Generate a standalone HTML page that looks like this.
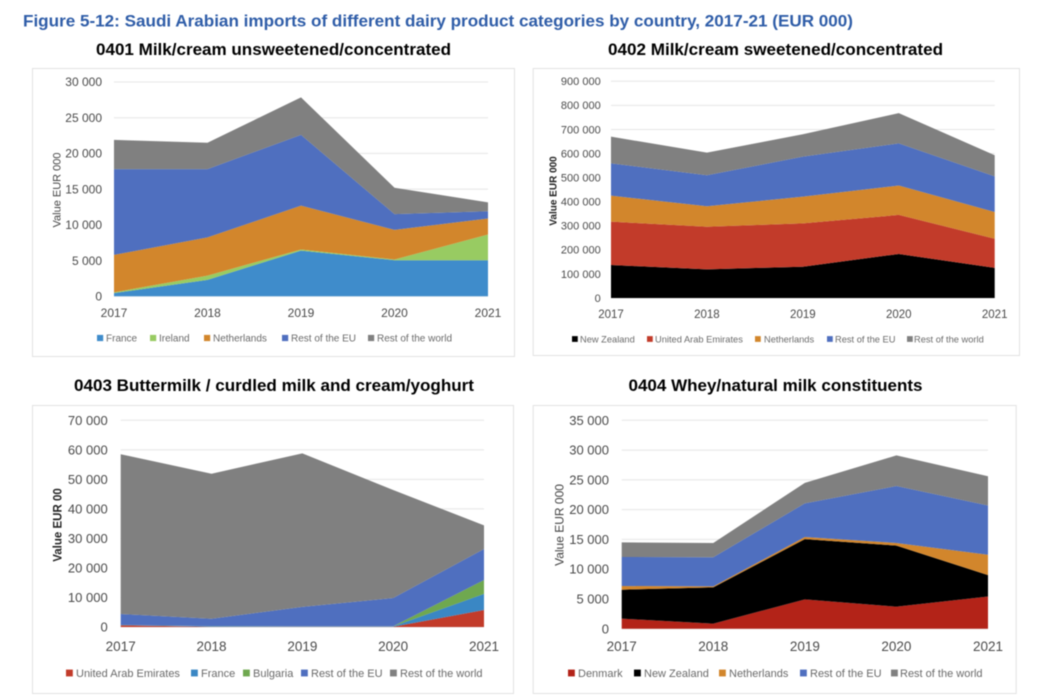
<!DOCTYPE html>
<html lang="en">
<head>
<meta charset="utf-8">
<title>Saudi Arabian imports of dairy product categories</title>
<style>
html,body{margin:0;padding:0;background:#fff;width:1037px;height:699px;overflow:hidden}
svg{display:block;font-family:"Liberation Sans",sans-serif;filter:blur(.5px)}
</style>
</head>
<body>
<svg id="figure" xmlns="http://www.w3.org/2000/svg" width="1037" height="699" viewBox="0 0 1037 699">
<text x="23" y="26.5" font-size="16.2" font-weight="700" fill="#2f5da8" textLength="830" lengthAdjust="spacingAndGlyphs">Figure 5-12: Saudi Arabian imports of different dairy product categories by country, 2017-21 (EUR 000)</text>
</svg>
<script>
const years = ['2017', '2018', '2019', '2020', '2021'];

const ticks0401 = [0, 5000, 10000, 15000, 20000, 25000, 30000];
const france0401 = [450, 2300, 6400, 5050, 5050];
const ireland0401 = [100, 600, 150, 100, 3600];
const netherlands0401 = [5250, 5350, 6150, 4150, 2250];
const restEu0401 = [12000, 9550, 9900, 2200, 1000];
const restWorld0401 = [4100, 3700, 5250, 3700, 1250];

const ticks0402 = [0, 100000, 200000, 300000, 400000, 500000, 600000, 700000, 800000, 900000];
const newZealand0402 = [137000, 119000, 130000, 183000, 125000];
const uae0402 = [180000, 177000, 180000, 162000, 121000];
const netherlands0402 = [108000, 85000, 111000, 122000, 111000];
const restEu0402 = [134000, 129000, 166000, 175000, 148000];
const restWorld0402 = [111000, 94000, 93000, 126000, 88000];

const ticks0403 = [0, 10000, 20000, 30000, 40000, 50000, 60000, 70000];
const uae0403 = [560, 100, 100, 100, 5750];
const france0403 = [40, 200, 100, 100, 5450];
const bulgaria0403 = [50, 50, 50, 50, 4700];
const restEu0403 = [3750, 2450, 6550, 9550, 10500];
const restWorld0403 = [54100, 49100, 52000, 36600, 8000];

const ticks0404 = [0, 5000, 10000, 15000, 20000, 25000, 30000, 35000];
const denmark0404 = [1700, 850, 4930, 3700, 5400];
const newZealand0404 = [4850, 6100, 10120, 10250, 3600];
const netherlands0404 = [620, 150, 350, 450, 3430];
const restEu0404 = [4870, 4900, 5650, 9560, 8270];
const restWorld0404 = [2460, 2400, 3450, 5140, 4900];

const charts = [
  {
    id: '0401', title: '0401 Milk/cream unsweetened/concentrated', yTitle: 'Value EUR 000', ticks: ticks0401,
    titleX: 273.5, titleY: 55, titleW: 355,
    panel: [32, 68, 482, 288], plot: [114, 488, 82, 296.3],
    yRight: 102, tickFont: 12, xFont: 12, xLabelY: 317, yTitleX: 60.5, yTitleY: 190, yTitleFont: 11, yTitleBold: false,
    legendY: 338, legendFont: 10,
    series: [
      { name: 'France', values: france0401, color: '#3f8ccb', sx: 97, tx: 106 },
      { name: 'Ireland', values: ireland0401, color: '#98cb62', sx: 150, tx: 159 },
      { name: 'Netherlands', values: netherlands0401, color: '#d2862c', sx: 204, tx: 213 },
      { name: 'Rest of the EU', values: restEu0401, color: '#4f6fbf', sx: 282, tx: 291 },
      { name: 'Rest of the world', values: restWorld0401, color: '#808080', sx: 368, tx: 377 }
    ]
  },
  {
    id: '0402', title: '0402 Milk/cream sweetened/concentrated', yTitle: 'Value EUR 000', ticks: ticks0402,
    titleX: 775.5, titleY: 55, titleW: 335,
    panel: [532.7, 68, 486.3, 287], plot: [611, 994.7, 81.3, 298],
    yRight: 600.7, tickFont: 11, xFont: 11.5, xLabelY: 318, yTitleX: 556.5, yTitleY: 191, yTitleFont: 10, yTitleBold: true,
    legendY: 339, legendFont: 9.3,
    series: [
      { name: 'New Zealand', values: newZealand0402, color: '#000000', sx: 572, tx: 580 },
      { name: 'United Arab Emirates', values: uae0402, color: '#c23b2a', sx: 647, tx: 655 },
      { name: 'Netherlands', values: netherlands0402, color: '#d2862c', sx: 755, tx: 764 },
      { name: 'Rest of the EU', values: restEu0402, color: '#4f6fbf', sx: 827, tx: 835 },
      { name: 'Rest of the world', values: restWorld0402, color: '#808080', sx: 907, tx: 914 }
    ]
  },
  {
    id: '0403', title: '0403 Buttermilk / curdled milk and cream/yoghurt', yTitle: 'Value EUR 00', ticks: ticks0403,
    titleX: 274, titleY: 391, titleW: 400,
    panel: [32, 405, 481, 288], plot: [120.7, 484, 420.3, 627],
    yRight: 107.7, tickFont: 13, xFont: 13.5, xLabelY: 651, yTitleX: 61.5, yTitleY: 525, yTitleFont: 11.5, yTitleBold: true,
    legendY: 673, legendFont: 11,
    series: [
      { name: 'United Arab Emirates', values: uae0403, color: '#c23b2a', sx: 66, tx: 76 },
      { name: 'France', values: france0403, color: '#3a87c4', sx: 191, tx: 201 },
      { name: 'Bulgaria', values: bulgaria0403, color: '#6fa84f', sx: 243, tx: 253 },
      { name: 'Rest of the EU', values: restEu0403, color: '#4f6fbf', sx: 301, tx: 311 },
      { name: 'Rest of the world', values: restWorld0403, color: '#808080', sx: 390, tx: 400 }
    ]
  },
  {
    id: '0404', title: '0404 Whey/natural milk constituents', yTitle: 'Value EUR 000', ticks: ticks0404,
    titleX: 775.5, titleY: 391, titleW: 294,
    panel: [532.7, 405, 483, 288], plot: [621.7, 988, 420.3, 628.7],
    yRight: 609, tickFont: 13, xFont: 13.5, xLabelY: 651, yTitleX: 563.5, yTitleY: 525, yTitleFont: 12, yTitleBold: false,
    legendY: 673, legendFont: 11,
    series: [
      { name: 'Denmark', values: denmark0404, color: '#b32318', sx: 568, tx: 578 },
      { name: 'New Zealand', values: newZealand0404, color: '#000000', sx: 634, tx: 644 },
      { name: 'Netherlands', values: netherlands0404, color: '#d2862c', sx: 719, tx: 729 },
      { name: 'Rest of the EU', values: restEu0404, color: '#4f6fbf', sx: 800, tx: 810 },
      { name: 'Rest of the world', values: restWorld0404, color: '#808080', sx: 891, tx: 900 }
    ]
  }
];

const NS = 'http://www.w3.org/2000/svg';
const root = document.getElementById('figure');

function make(parent, tag, attrs, text) {
  const el = document.createElementNS(NS, tag);
  Object.keys(attrs).forEach(function (k) { el.setAttribute(k, attrs[k]); });
  if (text !== undefined) el.textContent = text;
  parent.appendChild(el);
  return el;
}
function slug(s) {
  return s.toLowerCase().replace(/[^a-z0-9]+/g, '-');
}
function formatTick(v) {
  return String(v).replace(/\B(?=(\d{3})+$)/g, '\u00a0');
}

charts.forEach(function (c) {
  const group = make(root, 'g', {});
  
  

  const title = make(group, 'text', { x: c.titleX, y: c.titleY, 'font-size': 17, 'font-weight': 700, fill: '#000', 'text-anchor': 'middle', textLength: c.titleW, lengthAdjust: 'spacingAndGlyphs' }, c.title);
  
  

  const panel = make(group, 'rect', { x: c.panel[0] + 0.5, y: c.panel[1] + 0.5, width: c.panel[2], height: c.panel[3], fill: '#fff', stroke: '#e2e2e2', 'stroke-width': 1 });
  
  

  const x0 = c.plot[0], x1 = c.plot[1], yTop = c.plot[2], yBase = c.plot[3];
  const maxTick = c.ticks[c.ticks.length - 1];
  const xScale = function (i) { return x0 + (x1 - x0) * i / (years.length - 1); };
  const yScale = function (v) { return yBase - (yBase - yTop) * v / maxTick; };

  c.ticks.forEach(function (t) {
    const line = make(group, 'line', { x1: x0, x2: x1, y1: yScale(t), y2: yScale(t), stroke: '#e6e6e6', 'stroke-width': 1 });
    
    
    const label = make(group, 'text', { x: c.yRight, y: yScale(t) + c.tickFont * 0.35, 'font-size': c.tickFont, fill: '#4a4a4a', 'text-anchor': 'end' }, formatTick(t));
    
    
  });

  let lower = years.map(function () { return 0; });
  c.series.forEach(function (s) {
    const upper = s.values.map(function (v, i) { return lower[i] + v; });
    const top = upper.map(function (v, i) { return xScale(i) + ',' + yScale(v); });
    const bottom = lower.map(function (v, i) { return xScale(i) + ',' + yScale(v); }).reverse();
    const area = make(group, 'polygon', { points: top.concat(bottom).join(' '), fill: s.color });
    
    
    lower = upper;
  });

  years.forEach(function (y, i) {
    const label = make(group, 'text', { x: xScale(i), y: c.xLabelY, 'font-size': c.xFont, fill: '#4a4a4a', 'text-anchor': 'middle' }, y);
    
    
  });

  const yTitle = make(group, 'text', { transform: 'translate(' + c.yTitleX + ' ' + c.yTitleY + ') rotate(-90)', 'font-size': c.yTitleFont, 'font-weight': c.yTitleBold ? 700 : 400, fill: c.yTitleBold ? '#222' : '#444', 'text-anchor': 'middle' }, c.yTitle);
  
  

  c.series.forEach(function (s) {
    const entry = make(group, 'g', {});
    
    
    const size = c.legendFont * 0.62;
    make(entry, 'rect', { x: s.sx, y: c.legendY - size / 2, width: size, height: size, fill: s.color });
    make(entry, 'text', { x: s.tx, y: c.legendY + c.legendFont * 0.35, 'font-size': c.legendFont, fill: '#6a6a6a' }, s.name);
  });
});
</script>
</body>
</html>
